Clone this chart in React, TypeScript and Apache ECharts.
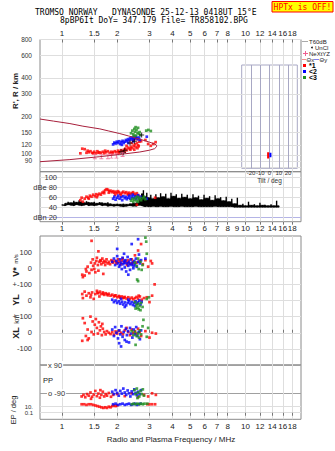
import React, { useEffect, useRef } from "react";
import * as echarts from "echarts";

// ---------- axis ticks / labels ----------
const freqTicks = [1, 1.5, 2, 3, 4, 5, 6, 7, 8, 10, 12, 14, 16, 18];
const freqLabelsMid = [1, 1.5, 2, 3, 4, 5, 6, 7, 8, 9, 10, 12, 14, 16, 18];
const heightTicks = [80, 90, 100, 120, 150, 200, 300, 400, 600, 800];
const dbTicks = [20, 40, 60, 80, 100];
const dbLabels: Record<string, string> = { "20": "dBn 20", "40": "40", "60": "60", "80": "dBe 80", "100": "100" };
const motionTicks = [-100, 0, 100, 200, 300, 400, 500];
const motionLabels: Record<string, string> = { "-100": "-100", "0": "0", "100": "+-100", "200": "0", "300": "+-100", "400": "0", "500": "100" };
const ppTicks = [-90, 90];
const ppLabels: Record<string, string> = { "-90": "o -90", "90": "x 90" };
const epTicks = [0.1, 10];
const epLabelUpper = [10];
const epLabelLower = [0.1];
const epLabels: Record<string, string> = { "0.1": "0.1", "10": "10." };
const tiltTicks = [-20, -10, 0, 10, 20];

// ---------- panel 1 : virtual height (MHz, km) ----------
const modelUpper = [[0.759, 191], [0.9, 184], [1.105, 176], [1.3, 168], [1.609, 160], [1.8, 154], [2.067, 147], [2.3, 141], [2.655, 133], [3.0, 126], [3.2, 122], [3.28, 119]];
const modelLower = [[3.28, 116], [3.2, 112], [3.0, 109], [2.655, 105.5], [2.067, 101], [1.609, 97], [1.105, 92], [0.759, 88.6]];
const hRed = [[1.26, 103], [1.29, 112], [1.33, 111], [1.36, 104], [1.40, 105], [1.43, 107], [1.46, 104], [1.50, 106], [1.53, 103], [1.56, 107], [1.60, 105], [1.63, 104], [1.67, 106], [1.70, 103], [1.74, 105], [1.78, 107], [1.82, 104], [1.86, 106], [1.90, 105], [1.94, 107], [1.98, 105], [2.02, 108], [2.06, 106], [2.10, 109], [2.14, 107], [2.18, 110], [2.22, 112], [2.26, 109], [2.30, 114], [2.34, 112], [2.38, 116], [2.42, 113], [2.46, 118], [2.50, 121], [2.52, 115], [2.56, 124], [2.60, 119], [2.64, 127], [2.45, 130], [2.55, 133], [2.70, 128], [2.85, 131], [2.95, 122], [3.05, 118], [3.15, 122], [3.24, 126], [2.40, 124], [2.48, 110], [2.62, 117], [2.25, 118], [1.38, 108], [1.48, 103], [1.58, 104], [1.72, 108], [1.88, 103], [2.04, 104], [2.20, 106], [2.36, 110], [2.58, 113]];
const hBlue = [[1.90, 121], [1.93, 125], [1.96, 123], [1.99, 127], [2.02, 124], [2.05, 128], [2.08, 122], [2.11, 126], [2.14, 129], [2.17, 124], [2.20, 127], [2.23, 131], [2.26, 128], [2.29, 133], [2.32, 130], [2.35, 135], [2.38, 132], [2.41, 137], [2.44, 134], [2.47, 138], [2.50, 135], [2.53, 139], [2.56, 136], [2.60, 133], [2.63, 137], [2.66, 131], [2.90, 139], [2.12, 120], [2.30, 124], [2.45, 128]];
const hGreen = [[2.38, 148], [2.42, 155], [2.45, 145], [2.48, 160], [2.50, 152], [2.53, 142], [2.55, 157], [2.58, 149], [2.60, 163], [2.62, 146], [2.65, 151], [2.68, 143], [2.88, 155], [2.96, 157], [3.05, 154], [2.52, 165], [2.47, 141]];
const hBlack = [[2.10, 106], [2.16, 104], [2.20, 109], [2.35, 124], [2.48, 128], [2.72, 143]];
const hPink = [[1.51, 97], [1.64, 97], [1.78, 97], [1.86, 98], [1.98, 98], [2.14, 101]];

// ---------- panel 2 : amplitude (MHz, dB) ----------
const dbRed = [[1.26, 55], [1.28, 60], [1.30, 52], [1.33, 58], [1.36, 62], [1.39, 60], [1.42, 64], [1.45, 62], [1.48, 66], [1.51, 63], [1.54, 67], [1.57, 65], [1.60, 68], [1.63, 66], [1.66, 70], [1.69, 72], [1.72, 75], [1.75, 77], [1.78, 76], [1.81, 73], [1.84, 74], [1.87, 71], [1.90, 73], [1.93, 70], [1.96, 72], [2.00, 69], [2.04, 71], [2.08, 68], [2.12, 70], [2.16, 72], [2.20, 69], [2.24, 71], [2.28, 68], [2.32, 70], [2.36, 67], [2.40, 69], [2.44, 71], [2.48, 68], [2.52, 66], [2.56, 69], [2.60, 65], [2.64, 62], [2.56, 46], [3.22, 60], [1.95, 66], [2.10, 65], [1.40, 58], [1.55, 61], [1.70, 69], [1.80, 70], [2.02, 73], [2.30, 66]];
const dbBlue = [[1.90, 58], [1.93, 62], [1.96, 56], [2.00, 60], [2.03, 64], [2.06, 58], [2.10, 61], [2.13, 55], [2.16, 63], [2.20, 59], [2.23, 62], [2.26, 57], [2.30, 60], [2.33, 64], [2.36, 58], [2.40, 62], [2.43, 66], [2.46, 60], [2.50, 63], [2.53, 57], [2.56, 61], [2.60, 65], [2.63, 59], [2.90, 58], [2.68, 62]];
const dbGreen = [[2.38, 54], [2.42, 58], [2.45, 52], [2.48, 56], [2.52, 60], [2.55, 54], [2.58, 62], [2.62, 57], [2.65, 60], [2.70, 55], [2.75, 59], [2.80, 62], [2.85, 57], [2.60, 52]];
const noiseFreq = [1.00, 1.04, 1.08, 1.12, 1.16, 1.20, 1.24, 1.28, 1.32, 1.36, 1.40, 1.45, 1.50, 1.55, 1.60, 1.66, 1.72, 1.78, 1.85, 1.92, 2.00, 2.08, 2.16, 2.25, 2.34, 2.44, 2.54, 2.64, 2.72, 2.78, 2.84, 2.90, 2.96, 3.05, 3.15, 3.25, 3.35, 3.45, 3.56, 3.68, 3.80, 3.93, 4.06, 4.20, 4.35, 4.50, 4.66, 4.82, 5.00, 5.18, 5.36, 5.55, 5.75, 5.95, 6.16, 6.38, 6.60, 6.84, 7.08, 7.33, 7.59, 7.86, 8.14, 8.43, 8.73, 9.04, 9.36, 9.69, 10.0, 10.4, 10.8, 11.2, 11.6, 12.0, 12.4, 12.8, 13.3, 13.8, 14.3, 14.8, 15.2];
const noiseHigh = [46, 49, 52, 50, 54, 51, 55, 52, 50, 53, 51, 50, 52, 49, 51, 50, 49, 51, 48, 47, 48, 47, 48, 47, 48, 49, 50, 58, 68, 75, 62, 70, 60, 66, 58, 67, 60, 69, 62, 68, 58, 70, 63, 67, 59, 68, 61, 66, 58, 67, 60, 64, 56, 66, 59, 63, 55, 65, 58, 61, 54, 62, 52, 58, 48, 60, 45, 48, 44, 52, 45, 47, 44, 50, 45, 46, 44, 47, 44, 54, 44];
const noiseLow = [45, 44, 46, 45, 44, 46, 45, 44, 45, 46, 44, 45, 44, 45, 46, 44, 45, 43, 44, 43, 44, 43, 42, 43, 44, 43, 43, 45, 44, 43, 42, 43, 42, 42, 43, 42, 42, 43, 42, 42, 42, 43, 42, 42, 42, 43, 42, 42, 42, 42, 43, 42, 42, 42, 42, 42, 42, 43, 42, 42, 42, 42, 42, 42, 41, 41, 41, 41, 41, 41, 41, 41, 41, 41, 41, 41, 41, 41, 41, 41, 41];

// ---------- panel 3 : V* (m/s), YL (km), XL (km) ----------
const vRed = [[1.29, -40], [1.30, -55], [1.33, -45], [1.36, -20], [1.38, 10], [1.41, -30], [1.44, 35], [1.45, -10], [1.47, 55], [1.48, 15], [1.50, -5], [1.51, 30], [1.52, -25], [1.54, 45], [1.55, 65], [1.57, 20], [1.58, -15], [1.60, 40], [1.62, 50], [1.64, 25], [1.66, 60], [1.68, 35], [1.70, 45], [1.72, 20], [1.75, 55], [1.78, 30], [1.80, 40], [1.83, 25], [1.86, 50], [1.90, 35], [1.94, 45], [1.98, 30], [2.02, 55], [2.06, 40], [2.10, 25], [2.14, 60], [2.18, 35], [2.22, 45], [2.26, 20], [2.30, 50], [2.35, 30], [2.40, 55], [2.45, 40], [2.50, 80], [2.55, 35], [2.60, 110], [2.65, 45], [2.70, 150], [2.76, 25], [2.85, 50], [2.95, 10], [3.05, 45], [3.20, -100], [1.45, 170], [1.58, 105], [1.35, -5], [1.68, -35], [3.10, 30], [1.63, 45], [1.73, 38], [1.88, 42], [2.00, 38], [2.12, 48], [2.28, 35], [2.42, 28]];
const vBlue = [[1.88, 40], [1.92, 60], [1.95, 20], [1.98, 45], [2.00, 75], [2.02, 30], [2.05, 10], [2.07, 55], [2.10, 35], [2.12, -5], [2.14, 65], [2.16, 25], [2.18, 45], [2.20, 5], [2.22, 50], [2.24, -20], [2.26, 30], [2.28, 70], [2.30, 15], [2.32, 40], [2.35, -10], [2.37, 55], [2.40, 20], [2.42, 35], [2.45, 0], [2.48, 45], [2.50, 25], [2.53, 60], [2.56, 10], [2.60, 40], [2.63, 85], [2.66, 30], [2.70, 50], [2.00, 120], [2.40, 150], [2.60, 180], [2.85, 60], [2.30, -40], [2.18, 90], [2.08, 20], [2.20, 35], [2.34, 25], [2.46, 15]];
const vGreen = [[2.85, 190], [2.88, 165], [2.90, 90], [2.60, 60], [2.50, 35], [2.55, 15], [2.62, -5], [2.57, -70], [2.60, -80], [2.68, 40], [2.75, 20], [2.72, -10]];
const ylRed = [[1.29, 40], [1.30, 15], [1.33, 55], [1.36, 30], [1.40, 45], [1.43, 20], [1.46, 50], [1.49, 10], [1.52, 40], [1.55, 60], [1.58, 45], [1.61, 55], [1.64, 40], [1.67, 50], [1.70, 35], [1.73, 45], [1.76, 38], [1.80, 42], [1.84, 30], [1.88, 36], [1.92, 25], [1.96, 32], [2.00, 20], [2.04, 28], [2.08, 18], [2.12, 25], [2.16, 15], [2.20, 22], [2.25, 12], [2.30, 20], [2.35, 10], [2.40, 18], [2.45, 8], [2.50, 15], [2.55, 22], [2.60, 12], [2.66, 25], [2.72, 5], [2.80, 15], [2.90, 20], [3.00, -10], [3.10, 30], [1.44, 35], [1.60, 25], [2.62, 30], [1.56, 48], [1.68, 42], [1.78, 32], [1.94, 30], [2.06, 24], [2.18, 18]];
const ylBlue = [[1.88, 5], [1.92, -10], [1.96, 0], [2.00, -15], [2.04, -5], [2.08, -20], [2.12, -8], [2.16, -25], [2.20, -12], [2.24, -30], [2.28, -15], [2.32, -5], [2.36, -22], [2.40, -10], [2.44, -28], [2.48, -15], [2.52, -5], [2.56, -20], [2.60, -12], [2.64, 0], [2.68, -25], [2.72, -8], [2.10, 10], [2.30, 5], [2.50, -35], [2.20, -40]];
const ylGreen = [[2.50, -10], [2.55, -30], [2.58, -45], [2.60, -20], [2.62, -55], [2.65, -35], [2.68, -60], [2.70, -15], [2.75, -40], [2.90, 10], [2.98, 20], [2.52, -50]];
const xlRed = [[1.29, -50], [1.30, 90], [1.33, 60], [1.35, -20], [1.38, 20], [1.40, -35], [1.43, 100], [1.45, 5], [1.47, 70], [1.49, -10], [1.51, 50], [1.53, 85], [1.55, 30], [1.57, -5], [1.59, 65], [1.61, 15], [1.63, 40], [1.65, -15], [1.67, 25], [1.70, 5], [1.73, -10], [1.76, 10], [1.80, 0], [1.84, -8], [1.88, 5], [1.92, -12], [1.96, 8], [2.00, -5], [2.05, 12], [2.10, 0], [2.15, -10], [2.20, 15], [2.25, 30], [2.30, 5], [2.35, -15], [2.40, 20], [2.45, 0], [2.50, 10], [2.55, -5], [2.60, 25], [2.65, 5], [2.70, -20], [2.85, 10], [3.00, -30], [3.10, 0], [3.25, -5], [1.38, -45], [1.66, 55]];
const xlBlue = [[1.88, 20], [1.92, -20], [1.95, 35], [1.98, 0], [2.02, -35], [2.05, 15], [2.08, -10], [2.11, 40], [2.14, -25], [2.17, 5], [2.20, -45], [2.23, 25], [2.26, -15], [2.29, 10], [2.32, -60], [2.35, 30], [2.38, -5], [2.42, -30], [2.46, 20], [2.50, -10], [2.54, 35], [2.58, -20], [2.62, 5], [2.66, -40], [2.70, 15], [2.10, -85], [2.05, -65], [2.25, -55]];
const xlGreen = [[2.40, 10], [2.45, -15], [2.50, 5], [2.55, -20], [2.60, -5], [2.63, -30], [2.66, 15], [2.70, -10], [2.75, 40], [2.78, 80], [2.52, -75], [2.90, -25], [2.95, 30]];

// ---------- panel 4 : PP (deg) and EP (deg) ----------
const ppRed = [[1.28, -110], [1.31, -100], [1.34, -115], [1.37, -95], [1.40, -105], [1.43, -85], [1.46, -112], [1.49, -98], [1.52, -75], [1.55, -108], [1.58, -92], [1.61, -118], [1.64, -100], [1.67, -80], [1.70, -110], [1.73, -95], [1.76, -105], [1.80, -88], [1.85, -112], [1.90, -100], [2.00, -95], [2.20, -108], [2.40, -90], [2.60, -115], [2.80, -100], [2.95, -110], [3.10, -90], [3.25, -100], [1.44, -125], [1.62, -70]];
const ppBlue = [[1.88, -80], [1.92, -95], [1.96, -70], [2.00, -88], [2.04, -105], [2.08, -75], [2.12, -92], [2.16, -60], [2.20, -85], [2.24, -100], [2.28, -72], [2.32, -90], [2.36, -110], [2.40, -78], [2.44, -95], [2.48, -65], [2.52, -88], [2.56, -102], [2.60, -80], [2.65, -95], [2.70, -70]];
const ppGreen = [[2.48, -70], [2.52, -95], [2.56, -60], [2.60, -85], [2.64, -110], [2.68, -75], [2.72, -95], [2.76, -65], [2.80, -105], [2.58, -120]];
const epRed = [[1.28, 14], [1.32, 14], [1.36, 13], [1.40, 14], [1.44, 14], [1.48, 13], [1.52, 12], [1.56, 11], [1.60, 10], [1.64, 9], [1.68, 8], [1.72, 9], [1.76, 8], [1.80, 10], [1.84, 9], [1.88, 11], [1.92, 12], [1.96, 11], [2.00, 12], [2.92, 14], [3.00, 14], [3.10, 14], [3.22, 14]];
const epBlue = [[1.90, 14], [1.96, 15], [2.02, 13], [2.08, 14], [2.14, 15], [2.20, 13], [2.26, 14], [2.32, 15], [2.38, 13], [2.44, 14], [2.50, 15], [2.56, 13], [2.62, 14], [2.68, 15]];
const epGreen = [[2.40, 14], [2.46, 15], [2.52, 14], [2.58, 15], [2.64, 14], [2.70, 15], [2.76, 14], [2.82, 15], [2.92, 15]];

// ---------- tilt inset (deg, km) ----------
const tiltRed = [[-1.5, 94], [-1.5, 105]];
const tiltBlue = [[1, 96], [1, 104]];

const lg = Math.log10;
const F_MIN = 0.759, F_MAX = 20.1;
const RED = "#ff0000", BLUE = "#0000ff", GREEN = "#1f8f1f";
const GRID = "#dedede", BORDER = "#8a8a8a";
const SANS = "Liberation Sans";
const MONO = "DejaVu Sans Mono";
const PLUS = "path://M2,0H3V2H5V3H3V5H2V3H0V2H2Z";
const IBAR = "path://M0,0H4V1H2.5V5H4V6H0V5H1.5V1H0Z";

function freqFmt(v: number) {
  const f = Math.round(Math.pow(10, v) * 10) / 10;
  return String(f);
}
function key(v: number) {
  return String(Math.round(v * 10) / 10);
}
function heightFmt(v: number) {
  const h = Math.round(Math.pow(10, v));
  return h === 100 ? "{up|100}" : String(h);
}

function xAx(gridIndex: number, extra: any = {}) {
  return {
    type: "value", gridIndex, min: lg(F_MIN), max: lg(F_MAX),
    axisLine: { show: false },
    axisTick: { show: false, customValues: freqTicks.map(lg) },
    axisLabel: { show: false, customValues: freqTicks.map(lg), formatter: freqFmt, fontSize: 8, color: "#222", fontFamily: SANS },
    splitLine: { show: true, lineStyle: { color: GRID, width: 1 } },
    ...extra,
  };
}

function sc(data: number[][], color: string, axis: number, mapY: (v: number) => number, size: any = 2.7, symbol = "rect") {
  return {
    type: "scatter", xAxisIndex: axis, yAxisIndex: axis, symbol, symbolSize: size,
    itemStyle: { color }, silent: true, animation: false,
    data: data.map(([f, v]) => [lg(f), mapY(v)]),
  };
}

const id = (v: number) => v;

function legendText(x: number, y: number, text: string, extra: any = {}) {
  return { type: "text", x, y, style: { text, fontFamily: SANS, fontSize: 6, fill: "#222", verticalAlign: "middle", ...extra } };
}

export default function App() {
  const ref = useRef<HTMLDivElement>(null);
  useEffect(() => {
    const chart = echarts.init(ref.current!, null, { renderer: "svg", width: 335, height: 451 });
    const gridBase = { show: true, borderColor: BORDER, borderWidth: 1, backgroundColor: "transparent", containLabel: false, outerBoundsMode: "none" };
    const model = [...modelUpper, ...modelLower];
    const epAxis = (labels: number[]) => ({
      type: "value", gridIndex: 4, position: "left", offset: 0, min: -10.8, max: 32.1,
      axisLine: { show: false }, axisTick: { show: false, customValues: epTicks },
      axisLabel: { customValues: labels, formatter: (v: number) => epLabels[key(v)] ?? "", margin: 7, fontSize: 6, color: "#333", fontFamily: SANS, showMinLabel: true, showMaxLabel: true },
      splitLine: { show: true, lineStyle: { color: GRID } },
    });
    const option: any = {
      animation: false,
      backgroundColor: "#ffffff",
      textStyle: { fontFamily: SANS },
      grid: [
        { ...gridBase, left: 40, width: 261, top: 39.5, height: 132.2 },
        { ...gridBase, left: 40, width: 261, top: 171.7, height: 50 },
        { ...gridBase, left: 40, width: 261, top: 236, height: 129 },
        { ...gridBase, left: 40, width: 261, top: 365, height: 54.3 },
        { ...gridBase, show: false, left: 40, width: 261, top: 393.3, height: 26 },
        { ...gridBase, borderColor: "#a8a8c4", left: 241.7, width: 55.6, top: 65, height: 103.3 },
      ],
      xAxis: [
        xAx(0, {
          position: "top",
          axisTick: { show: true, inside: true, length: 3, customValues: freqTicks.map(lg), lineStyle: { color: "#777" } },
          axisLabel: { show: true, margin: 2, customValues: freqTicks.map(lg), formatter: freqFmt, fontSize: 8, color: "#222", fontFamily: SANS },
        }),
        xAx(1, {
          position: "bottom",
          axisTick: { show: true, length: 3, customValues: freqTicks.map(lg), lineStyle: { color: "#777" } },
          axisLabel: { show: true, margin: 2.5, customValues: freqLabelsMid.map(lg), formatter: freqFmt, fontSize: 8, color: "#222", fontFamily: SANS },
        }),
        xAx(2, {
          position: "top",
          axisTick: { show: true, length: 3, customValues: freqTicks.map(lg), lineStyle: { color: "#777" } },
        }),
        xAx(3, {}),
        xAx(4, {
          position: "bottom",
          splitLine: { show: false },
          axisTick: { show: true, length: 3, customValues: freqTicks.map(lg), lineStyle: { color: "#777" } },
          axisLabel: { show: true, margin: 3, customValues: freqTicks.map(lg), formatter: freqFmt, fontSize: 8, color: "#222", fontFamily: SANS },
        }),
        {
          type: "value", gridIndex: 5, min: -30, max: 30,
          axisLine: { show: false },
          axisTick: { show: false, customValues: tiltTicks },
          axisLabel: { show: true, customValues: tiltTicks, margin: 1.5, fontSize: 6, color: "#333", fontFamily: SANS },
          splitLine: { show: true, lineStyle: { color: "#a8a8c4" } },
          name: "Tilt / deg", nameLocation: "middle", nameGap: 9,
          nameTextStyle: { fontSize: 6.5, color: "#333", fontFamily: SANS },
        },
      ],
      yAxis: [
        {
          type: "value", gridIndex: 0, min: lg(74), max: lg(800),
          axisLine: { show: false }, axisTick: { show: false, customValues: heightTicks.map(lg) },
          axisLabel: {
            customValues: heightTicks.map(lg), formatter: heightFmt, margin: 8, fontSize: 6.5, color: "#333", fontFamily: SANS,
            rich: { up: { fontSize: 6.5, color: "#333", fontFamily: SANS, padding: [0, 0, 2, 0] } },
          },
          splitLine: { show: true, lineStyle: { color: GRID } },
        },
        {
          type: "value", gridIndex: 1, min: 12, max: 112,
          axisLine: { show: false }, axisTick: { show: false, customValues: dbTicks },
          axisLabel: { inside: true, align: "right", margin: 17, customValues: dbTicks, formatter: (v: number) => dbLabels[key(v)] ?? "", fontSize: 7.5, color: "#333", fontFamily: SANS },
          splitLine: { show: true, lineStyle: { color: ["#b4b4e6", GRID, GRID, GRID, GRID] } },
        },
        {
          type: "value", gridIndex: 2, min: -200, max: 600,
          axisLine: { show: false }, axisTick: { show: false, customValues: motionTicks },
          axisLabel: { customValues: motionTicks, formatter: (v: number) => motionLabels[key(v)] ?? "", margin: 8, fontSize: 7.5, color: "#333", fontFamily: SANS },
          splitLine: { show: true, lineStyle: { color: GRID } },
        },
        {
          type: "value", gridIndex: 3, min: -255.4, max: 90,
          axisLine: { show: false }, axisTick: { show: false, customValues: ppTicks },
          axisLabel: { inside: true, margin: 7, customValues: ppTicks, formatter: (v: number) => ppLabels[key(v)] ?? "", fontSize: 7.5, color: "#333", fontFamily: SANS, backgroundColor: "#fff", padding: [0, 1] },
          splitLine: { show: true, lineStyle: { color: "#a0a0a0" } },
        },
        epAxis(epLabelUpper),
        {
          type: "value", gridIndex: 5, min: lg(78.7), max: lg(505), show: false,
          splitLine: { show: false },
        },
        { ...epAxis(epLabelLower), splitLine: { show: false } },
      ],
      series: [
        {
          type: "line", xAxisIndex: 0, yAxisIndex: 0, showSymbol: false, symbol: "none", silent: true,
          lineStyle: { color: "#a8203c", width: 1 },
          data: model.map(([f, h]) => [lg(f), lg(h)]),
        },
        sc(hRed, RED, 0, lg),
        sc(hBlue, BLUE, 0, lg),
        sc(hGreen, GREEN, 0, lg),
        sc(hBlack, "#000", 0, lg, 5, PLUS),
        sc(hPink, "#f06090", 0, lg, [4, 5], IBAR),
        {
          type: "custom", xAxisIndex: 1, yAxisIndex: 1, silent: true,
          data: noiseFreq.map((f, i) => [lg(f), noiseLow[i], noiseHigh[i]]),
          renderItem: (params: any, api: any) => {
            const i = params.dataIndex;
            const x0 = lg(noiseFreq[i]);
            const children: any[] = [];
            if (i < noiseFreq.length - 1) {
              const x1 = lg(noiseFreq[i + 1]);
              const body = Math.min(noiseHigh[i], noiseHigh[i + 1]);
              children.push({
                type: "polygon",
                shape: { points: [api.coord([x0, noiseLow[i]]), api.coord([x1, noiseLow[i + 1]]), api.coord([x1, body]), api.coord([x0, body])] },
                style: { fill: "#000", stroke: "#000", lineWidth: 0.5 },
              });
            }
            const a = api.coord([x0, noiseLow[i]]);
            const b = api.coord([x0, noiseHigh[i]]);
            children.push({ type: "line", shape: { x1: a[0], y1: a[1], x2: b[0], y2: b[1] }, style: { stroke: "#000", lineWidth: 1.4 } });
            return { type: "group", children };
          },
        },
        sc(dbRed, RED, 1, id),
        sc(dbBlue, BLUE, 1, id),
        sc(dbGreen, GREEN, 1, id),
        sc(vRed, RED, 2, (v) => v + 400),
        sc(vBlue, BLUE, 2, (v) => v + 400),
        sc(vGreen, GREEN, 2, (v) => v + 400),
        sc(ylRed, RED, 2, (v) => v + 200),
        sc(ylBlue, BLUE, 2, (v) => v + 200),
        sc(ylGreen, GREEN, 2, (v) => v + 200),
        sc(xlRed, RED, 2, id),
        sc(xlBlue, BLUE, 2, id),
        sc(xlGreen, GREEN, 2, id),
        sc(ppRed, RED, 3, id),
        sc(ppBlue, BLUE, 3, id),
        sc(ppGreen, GREEN, 3, id),
        sc(epRed, RED, 4, id),
        sc(epBlue, BLUE, 4, id),
        sc(epGreen, GREEN, 4, id),
        {
          type: "line", xAxisIndex: 5, yAxisIndex: 5, symbol: "none", silent: true,
          lineStyle: { color: RED, width: 2 }, data: tiltRed.map(([t, h]) => [t, lg(h)]),
        },
        {
          type: "line", xAxisIndex: 5, yAxisIndex: 5, symbol: "none", silent: true,
          lineStyle: { color: BLUE, width: 2 }, data: tiltBlue.map(([t, h]) => [t, lg(h)]),
        },
      ],
      graphic: [
        { type: "text", x: 35, y: 12.5, style: { text: "TROMSO NORWAY   DYNASONDE 25-12-13 0418UT 15°E", fontFamily: MONO, fontSize: 8, fill: "#000", verticalAlign: "middle" } },
        { type: "text", x: 60, y: 20.5, style: { text: "8pBP6It DoY= 347.179 File= TR858102.BPG", fontFamily: MONO, fontSize: 8, fill: "#000", verticalAlign: "middle" } },
        { type: "rect", shape: { x: 272, y: 1.5, width: 61, height: 10.5 }, style: { fill: "#ffff00", stroke: "#ff0000", lineWidth: 1 } },
        { type: "text", x: 302.5, y: 7, style: { text: "HPTx is OFF!", fontFamily: MONO, fontSize: 8, fill: "#ff0000", align: "center", verticalAlign: "middle" } },
        { type: "text", x: 15, y: 91, rotation: Math.PI / 2, style: { text: "R', R / km", fontFamily: SANS, fontSize: 8, fontWeight: "bold", fill: "#222", align: "center", verticalAlign: "middle" } },
        { type: "text", x: 16, y: 272, rotation: Math.PI / 2, style: { text: "V*", fontFamily: SANS, fontSize: 9, fontWeight: "bold", fill: "#222", align: "center", verticalAlign: "middle" } },
        { type: "text", x: 16, y: 259, rotation: Math.PI / 2, style: { text: "m/s", fontFamily: SANS, fontSize: 6, fill: "#222", align: "center", verticalAlign: "middle" } },
        { type: "text", x: 16, y: 300, rotation: Math.PI / 2, style: { text: "YL", fontFamily: SANS, fontSize: 9, fontWeight: "bold", fill: "#222", align: "center", verticalAlign: "middle" } },
        { type: "text", x: 16, y: 319, rotation: Math.PI / 2, style: { text: "km", fontFamily: SANS, fontSize: 7, fill: "#222", align: "center", verticalAlign: "middle" } },
        { type: "text", x: 16, y: 333, rotation: Math.PI / 2, style: { text: "XL", fontFamily: SANS, fontSize: 9, fontWeight: "bold", fill: "#222", align: "center", verticalAlign: "middle" } },
        { type: "text", x: 43, y: 380, style: { text: "PP", fontFamily: SANS, fontSize: 7.5, fill: "#222", verticalAlign: "middle" } },
        { type: "text", x: 13, y: 410, rotation: Math.PI / 2, style: { text: "EP / deg", fontFamily: SANS, fontSize: 7.5, fill: "#222", align: "center", verticalAlign: "middle" } },
        { type: "text", x: 171, y: 439, style: { text: "Radio and Plasma Frequency / MHz", fontFamily: SANS, fontSize: 8, fill: "#222", align: "center", verticalAlign: "middle" } },
        // legend
        { type: "line", shape: { x1: 302, y1: 41.5, x2: 308, y2: 41.5 }, style: { stroke: "#aaaaaa", lineWidth: 1 } },
        legendText(309, 41.5, "T60dB"),
        { type: "circle", shape: { cx: 312, cy: 47.5, r: 0.8 }, style: { fill: "#000" } },
        legendText(315, 47.5, "UnCl"),
        { type: "line", shape: { x1: 303, y1: 53.5, x2: 308, y2: 53.5 }, style: { stroke: "#f06090", lineWidth: 1 } },
        { type: "line", shape: { x1: 305.5, y1: 51, x2: 305.5, y2: 56 }, style: { stroke: "#f06090", lineWidth: 1 } },
        legendText(309, 53.5, "NeXtYZ"),
        { type: "line", shape: { x1: 302, y1: 59.5, x2: 306, y2: 59.5 }, style: { stroke: "#f09090", lineWidth: 1 } },
        legendText(306.5, 59.5, "Θx"),
        { type: "line", shape: { x1: 314, y1: 59.5, x2: 319, y2: 59.5 }, style: { stroke: "#8080f0", lineWidth: 1 } },
        legendText(319.5, 59.5, "Θy"),
        { type: "rect", shape: { x: 303, y: 64, width: 3, height: 3 }, style: { fill: RED } },
        legendText(309, 65.5, "*1", { fontSize: 7, fontWeight: "bold", fill: "#000" }),
        { type: "rect", shape: { x: 303, y: 70, width: 3, height: 3 }, style: { fill: BLUE } },
        legendText(309, 71.5, "<2", { fontSize: 7, fontWeight: "bold", fill: "#000" }),
        { type: "rect", shape: { x: 303, y: 76, width: 3, height: 3 }, style: { fill: GREEN } },
        legendText(309, 77.5, "<3", { fontSize: 7, fontWeight: "bold", fill: "#000" }),
      ],
    };
    chart.setOption(option);
    return () => chart.dispose();
  }, []);
  return <div ref={ref} style={{ position: "fixed", left: 0, top: 0, width: 335, height: 451, background: "#fff" }} />;
}
